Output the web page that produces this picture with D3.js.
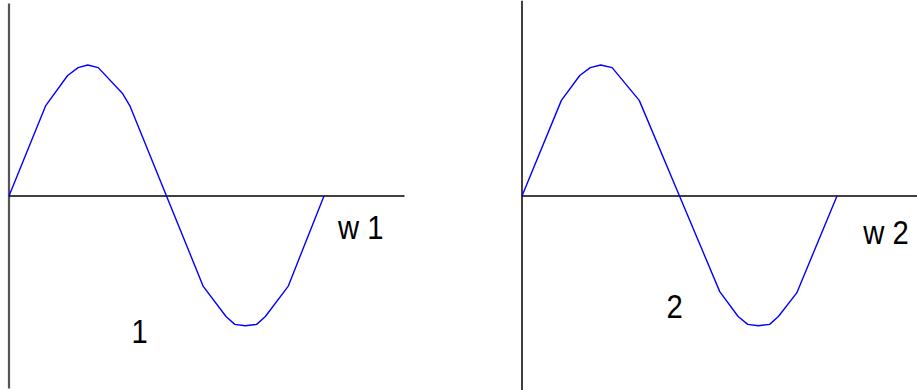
<!DOCTYPE html>
<html>
<head>
<meta charset="utf-8">
<script src="https://cdn.jsdelivr.net/npm/d3@7"></script>
<style>
  html, body { margin: 0; padding: 0; background: #fff; }
  svg { display: block; }
</style>
</head>
<body>
<svg id="chart" width="917" height="390"></svg>
<script>
const phase1 = [0, 42, 67, 79, 90, 102, 130, 138, 180, 222, 248, 258, 270, 283, 293, 319, 360];
const wave1  = [0, 0.69, 0.92, 0.98, 1.0, 0.98, 0.78, 0.69, 0, -0.69, -0.92, -0.98, -0.99, -0.98, -0.92, -0.69, 0];
const phase2 = [0, 45, 66, 78, 90, 103, 134, 180, 226, 247, 258, 270, 283, 293, 314, 360];
const wave2  = [0, 0.73, 0.92, 0.98, 1.0, 0.98, 0.73, 0, -0.73, -0.92, -0.98, -0.99, -0.98, -0.92, -0.74, 0];
const axisLabels = ["w 1", "w 2"];
const panelLabels = ["1", "2"];

const W = 917, H = 390;
const svg = d3.select("#chart");

const font = "'Liberation Sans', Arial, sans-serif";

const panels = [
  { phase: phase1, wave: wave1, x0: 9, axisColor: "#555", axisW: 2.2, yTop: 1.47, yBot: -1.47,
    label: axisLabels[0], tag: panelLabels[0], lab: [376, -0.33], tagAt: [140, -1.12] },
  { phase: phase2, wave: wave2, x0: 522, axisColor: "#000", axisW: 1.5, yTop: 1.49, yBot: -1.49,
    label: axisLabels[1], tag: panelLabels[1], lab: [390, -0.37], tagAt: [165, -0.93] }
];

const y = d3.scaleLinear().domain([-1, 1]).range([327, 65]);

// narrow-looking label: regular sans squeezed horizontally
function label(g, px, py, txt) {
  g.append("text")
    .attr("transform", `translate(${px},${py}) scale(0.86,1)`)
    .style("font-family", font)
    .style("font-size", "34px")
    .text(txt);
}

panels.forEach(p => {
  const x = d3.scaleLinear().domain([0, 360]).range([p.x0, p.x0 + 315]);
  const g = svg.append("g");

  // vertical axis
  g.append("line")
    .attr("x1", x(0)).attr("x2", x(0))
    .attr("y1", y(p.yTop)).attr("y2", y(p.yBot))
    .attr("stroke", p.axisColor).attr("stroke-width", p.axisW);

  // horizontal axis
  g.append("line")
    .attr("x1", x(0)).attr("x2", x(452))
    .attr("y1", y(0)).attr("y2", y(0))
    .attr("stroke", "#000").attr("stroke-width", 1.4);

  const line = d3.line()
    .x(d => x(d[0]))
    .y(d => y(d[1]));

  g.append("path")
    .datum(d3.zip(p.phase, p.wave))
    .attr("d", line)
    .attr("fill", "none")
    .attr("stroke", "#0000ff")
    .attr("stroke-width", 1.4)
    .attr("stroke-linejoin", "round");

  label(g, x(p.lab[0]), y(p.lab[1]), p.label);
  label(g, x(p.tagAt[0]), y(p.tagAt[1]), p.tag);
});
</script>
</body>
</html>
